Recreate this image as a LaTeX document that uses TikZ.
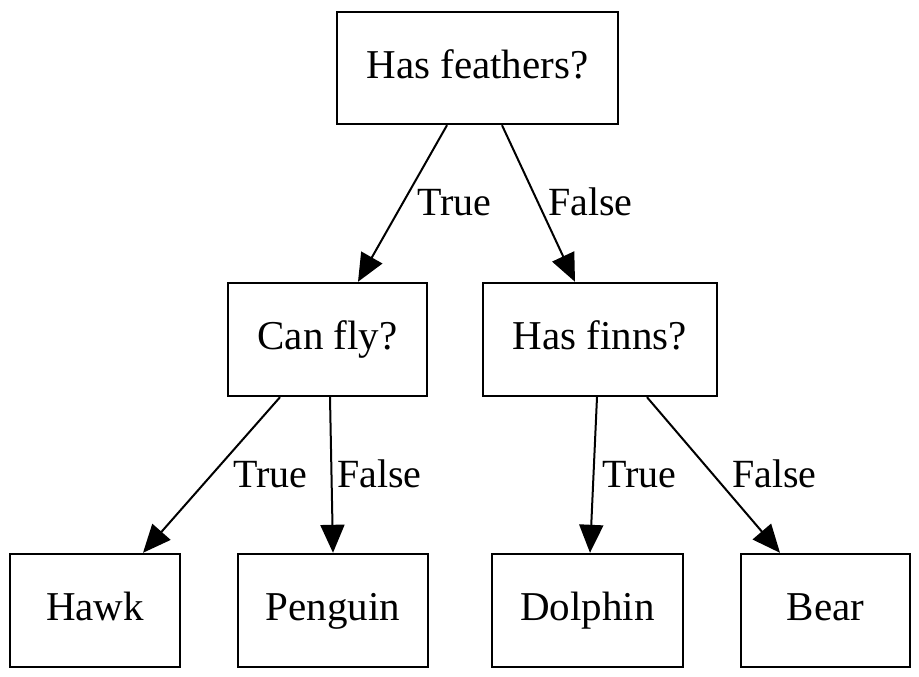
\documentclass[tikz,border=0pt]{standalone}
\usepackage{fontspec}
\setmainfont{Liberation Serif}
\usetikzlibrary{arrows.meta}
\tikzset{
  box/.style={draw=black, line width=2.4pt, rectangle, inner sep=0pt, minimum height=113pt,
    text height=27pt, text depth=7pt, font=\fontsize{41}{49}\selectfont},
  edgelbl/.style={inner sep=0pt, anchor=base west, font=\fontsize{40}{48}\selectfont},
  conn/.style={line width=2pt, -{Triangle[length=28pt,width=24pt]}}
}
\begin{document}
\begin{tikzpicture}[x=1pt,y=-1pt]
\path[use as bounding box, fill=white] (0,0) rectangle (919,677);
\node[box, minimum width=281pt, minimum height=112pt] (feat) at (477.5,68) {Has feathers?};
\node[box, minimum width=199pt] (fly) at (327.5,339.5) {Can fly?};
\node[box, minimum width=234pt] (finn) at (600,339.5) {Has finns?};
\node[box, minimum width=170pt] (hawk) at (95,610.5) {Hawk};
\node[box, minimum width=190pt] (peng) at (333,610.5) {Penguin};
\node[box, minimum width=191pt] (dolph) at (587.5,610.5) {Dolphin};
\node[box, minimum width=169pt] (bear) at (825.5,610.5) {Bear};
\draw[conn] ([xshift=-30.5pt]feat.south) -- ([xshift=30.5pt]fly.north);
\draw[conn] ([xshift=24.5pt]feat.south) -- ([xshift=-25pt]finn.north);
\draw[conn] ([xshift=-47.5pt]fly.south) -- ([xshift=48pt]hawk.north);
\draw[conn] ([xshift=2.5pt]fly.south) -- (peng.north);
\draw[conn] ([xshift=-3pt]finn.south) -- ([xshift=2.5pt]dolph.north);
\draw[conn] ([xshift=47pt]finn.south) -- ([xshift=-45.5pt]bear.north);
\node[edgelbl] (l1) at (417,215) {True};
\node[edgelbl] (l2) at (548,215) {False};
\node[edgelbl] (l3) at (233,487) {True};
\node[edgelbl] (l4) at (337,487) {False};
\node[edgelbl] (l5) at (602,487) {True};
\node[edgelbl] (l6) at (732,487) {False};
\end{tikzpicture}
\end{document}
